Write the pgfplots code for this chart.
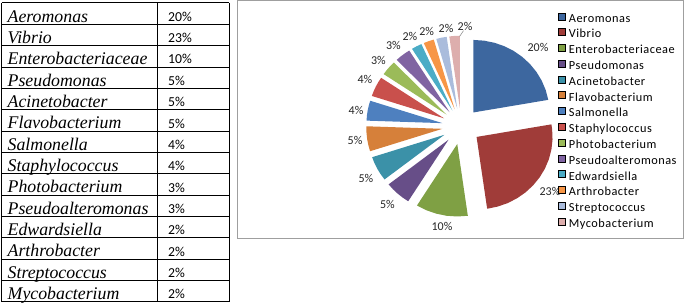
\documentclass[border=0pt]{standalone}
\usepackage{fontspec}
\setmainfont{Carlito}
\newfontfamily\timesfont{Liberation Serif}
\newfontfamily\spacedfont[LetterSpace=4.2]{Carlito}
\usepackage{pgfplots}
\pgfplotsset{compat=1.18}
\definecolor{cA}{HTML}{3D679F}
\definecolor{cB}{HTML}{A03C39}
\definecolor{cC}{HTML}{7FA044}
\definecolor{cD}{HTML}{674E88}
\definecolor{cE}{HTML}{3B91A8}
\definecolor{cF}{HTML}{D6803A}
\definecolor{cG}{HTML}{4E80BF}
\definecolor{cH}{HTML}{C9504C}
\definecolor{cI}{HTML}{9BBB59}
\definecolor{cJ}{HTML}{8064A2}
\definecolor{cK}{HTML}{4BACC6}
\definecolor{cL}{HTML}{F79646}
\definecolor{cM}{HTML}{AABCDC}
\definecolor{cN}{HTML}{DDAEAD}
\newcommand\legf{\spacedfont\fontsize{12.3bp}{14bp}\selectfont}
\begin{document}
\begin{tikzpicture}
\useasboundingbox (0,0) rectangle (685bp,303bp);
% ---- table ----
\foreach \k in {0,...,14}{
  \draw[line width=1bp] (1.7bp,{(300-21.34*\k)*1bp}) -- (229bp,{(300-21.34*\k)*1bp});
}
\draw[line width=1bp] (1.7bp,300bp) -- (1.7bp,1.24bp);
\draw[line width=1bp] (157bp,300bp) -- (157bp,1.24bp);
\draw[line width=1bp] (229bp,300bp) -- (229bp,1.24bp);
\foreach \n/\p [count=\i from 0] in {Aeromonas/20, Vibrio/23, Enterobacteriaceae/10,
  Pseudomonas/5, Acinetobacter/5, Flavobacterium/5, Salmonella/4, Staphylococcus/4,
  Photobacterium/3, Pseudoalteromonas/3, Edwardsiella/2, Arthrobacter/2,
  Streptococcus/2, Mycobacterium/2}{
  \node[anchor=base west, inner sep=0pt, font=\timesfont\itshape\fontsize{17.8bp}{20bp}\selectfont]
    at (7.5bp,{(280.9-21.34*\i)*1bp}) {\n};
  \node[anchor=base west, inner sep=0pt, font=\fontsize{13.7bp}{16bp}\selectfont]
    at (168bp,{(281.7-21.34*\i)*1bp}) {\p\%};
}
% ---- chart frame ----
\draw[color=gray!75, line width=0.9bp] (237.5bp,65bp) rectangle (683.2bp,302.3bp);
% ---- pie ----
\begin{axis}[
  at={(461.2bp,176.7bp)}, anchor=center,
  x=76bp, y=72.5bp, xmin=-1.6, xmax=1.6, ymin=-1.6, ymax=1.6,
  hide axis, clip=false,
  legend style={at={(0.896,0.9905)}, anchor=north west, draw=none, fill=none,
    inner sep=0pt, outer sep=0pt, row sep=3.6bp, column sep=4bp,
    nodes={inner sep=0pt, text height=8.8bp, text depth=2.6bp}},
  legend cell align=left,
  legend image code/.code={\fill[#1] (0bp,-0.7bp) rectangle (7bp,6.3bp);},
]
\addlegendimage{fill=cA}\addlegendentry{\legf Aeromonas}
\addlegendimage{fill=cB}\addlegendentry{\legf Vibrio}
\addlegendimage{fill=cC}\addlegendentry{\legf Enterobacteriaceae}
\addlegendimage{fill=cD}\addlegendentry{\legf Pseudomonas}
\addlegendimage{fill=cE}\addlegendentry{\legf Acinetobacter}
\addlegendimage{fill=cF}\addlegendentry{\legf Flavobacterium}
\addlegendimage{fill=cG}\addlegendentry{\legf Salmonella}
\addlegendimage{fill=cH}\addlegendentry{\legf Staphylococcus}
\addlegendimage{fill=cI}\addlegendentry{\legf Photobacterium}
\addlegendimage{fill=cJ}\addlegendentry{\legf Pseudoalteromonas}
\addlegendimage{fill=cK}\addlegendentry{\legf Edwardsiella}
\addlegendimage{fill=cL}\addlegendentry{\legf Arthrobacter}
\addlegendimage{fill=cM}\addlegendentry{\legf Streptococcus}
\addlegendimage{fill=cN}\addlegendentry{\legf Mycobacterium}
% Aeromonas 20 (10..90)
\addplot[fill=cA, draw=none, data cs=polar, xshift=12.21bp, yshift=13.86bp, forget plot]
 coordinates {(10,0) (10,1) (18,1) (26,1) (34,1) (42,1) (50,1) (58,1) (66,1) (74,1) (82,1) (90,1) (90,0)};
% Vibrio 23 (-82..10)
\addplot[fill=cB, draw=none, data cs=polar, xshift=15.37bp, yshift=-10.64bp, forget plot]
 coordinates {(-82,0) (-82,1) (-74,1) (-66,1) (-58,1) (-50,1) (-42,1) (-34,1) (-26,1) (-18,1) (-10,1) (-2,1) (6,1) (10,1) (10,0)};
% Enterobacteriaceae 10 (238..278)
\addplot[fill=cC, draw=none, data cs=polar, xshift=-3.95bp, yshift=-17.70bp, forget plot]
 coordinates {(238,0) (238,1) (246,1) (254,1) (262,1) (270,1) (278,1) (278,0)};
% Pseudomonas 5 (218..238)
\addplot[fill=cD, draw=none, data cs=polar, xshift=-12.71bp, yshift=-13.45bp, forget plot]
 coordinates {(218,0) (218,1) (223,1) (228,1) (233,1) (238,1) (238,0)};
% Acinetobacter 5 (198..218)
\addplot[fill=cE, draw=none, data cs=polar, xshift=-16.78bp, yshift=-8.50bp, forget plot]
 coordinates {(198,0) (198,1) (203,1) (208,1) (213,1) (218,1) (218,0)};
% Flavobacterium 5 (178..198)
\addplot[fill=cF, draw=none, data cs=polar, xshift=-18.82bp, yshift=-2.52bp, forget plot]
 coordinates {(178,0) (178,1) (183,1) (188,1) (193,1) (198,1) (198,0)};
% Salmonella 4 (162..178)
\addplot[fill=cG, draw=none, data cs=polar, xshift=-18.71bp, yshift=3.14bp, forget plot]
 coordinates {(162,0) (162,1) (166,1) (170,1) (174,1) (178,1) (178,0)};
% Staphylococcus 4 (146..162)
\addplot[fill=cH, draw=none, data cs=polar, xshift=-17.08bp, yshift=7.94bp, forget plot]
 coordinates {(146,0) (146,1) (150,1) (154,1) (158,1) (162,1) (162,0)};
% Photobacterium 3 (134..146)
\addplot[fill=cI, draw=none, data cs=polar, xshift=-14.55bp, yshift=11.63bp, forget plot]
 coordinates {(134,0) (134,1) (138,1) (142,1) (146,1) (146,0)};
% Pseudoalteromonas 3 (122..134)
\addplot[fill=cJ, draw=none, data cs=polar, xshift=-11.70bp, yshift=14.26bp, forget plot]
 coordinates {(122,0) (122,1) (126,1) (130,1) (134,1) (134,0)};
% Edwardsiella 2 (114..122)
\addplot[fill=cK, draw=none, data cs=polar, xshift=-8.92bp, yshift=15.98bp, forget plot]
 coordinates {(114,0) (114,1) (118,1) (122,1) (122,0)};
% Arthrobacter 2 (106..114)
\addplot[fill=cL, draw=none, data cs=polar, xshift=-6.50bp, yshift=17.01bp, forget plot]
 coordinates {(106,0) (106,1) (110,1) (114,1) (114,0)};
% Streptococcus 2 (98..106)
\addplot[fill=cM, draw=none, data cs=polar, xshift=-3.95bp, yshift=17.70bp, forget plot]
 coordinates {(98,0) (98,1) (102,1) (106,1) (106,0)};
% Mycobacterium 2 (90..98)
\addplot[fill=cN, draw=none, data cs=polar, xshift=-1.33bp, yshift=18.06bp, forget plot]
 coordinates {(90,0) (90,1) (94,1) (98,1) (98,0)};
% data labels
\addplot[draw=none, forget plot, point meta=explicit symbolic,
  nodes near coords={\pgfplotspointmeta\%},
  every node near coord/.append style={anchor=center, inner sep=0pt,
    font=\fontsize{12bp}{14bp}\selectfont, text=black!85}]
 table[meta=l, row sep=\\] {
 x y l\\
 1.01 1.094 20\\
 1.168 -0.892 23\\
 -0.253 -1.375 10\\
 -0.972 -1.072 5\\
 -1.253 -0.715 5\\
 -1.397 -0.19 5\\
 -1.384 0.225 4\\
 -1.266 0.648 4\\
 -1.09 0.914 3\\
 -0.893 1.121 3\\
 -0.674 1.245 2\\
 -0.454 1.31 2\\
 -0.2 1.352 2\\
 0.05 1.383 2\\
 };
\addplot[gray, line width=0.5bp, forget plot] coordinates {(0.03,1.32) (-0.02,1.24)};
\end{axis}
\end{tikzpicture}
\end{document}
